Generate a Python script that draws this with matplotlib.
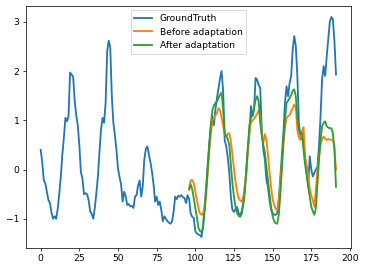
import matplotlib
matplotlib.use("Agg")
import matplotlib.pyplot as plt
import numpy as np

# ground truth, steps 0..191
ground_truth = [
    0.40, 0.15, -0.22, -0.28, -0.45, -0.62, -0.68, -0.88, -1.00, -0.95,
    -1.00, -0.80, -0.50, -0.15, 0.30, 0.65, 1.05, 0.98, 1.08, 1.97,
    1.93, 1.88, 1.40, 1.10, 0.90, 0.50, -0.05, -0.18, -0.50, -0.48,
    -0.50, -0.62, -0.85, -0.90, -1.00, -0.78, -0.48, -0.15, 0.35, 0.80,
    1.05, 0.95, 1.35, 2.40, 2.62, 2.48, 1.50, 0.95, 0.70, 0.40,
    0.02, -0.15, -0.30, -0.65, -0.45, -0.55, -0.72, -0.70, -0.75, -0.74,
    -0.78, -0.55, -0.52, -0.32, -0.22, -0.55, -0.35, 0.20, 0.42, 0.47,
    0.30, 0.15, -0.05, -0.30, -0.65, -0.55, -0.72, -0.65, -0.82, -1.05,
    -0.95, -1.00, -1.05, -1.08, -1.10, -1.05, -0.85, -0.55, -0.60, -0.53,
    -0.55, -0.52, -0.56, -0.58, -0.68, -0.52, -0.60, -0.89, -0.96, -0.98,
    -1.25, -1.30, -1.32, -1.33, -1.37, -1.15, -0.75, -0.35, 0.10, 0.54,
    0.85, 1.08, 0.90, 1.22, 1.45, 1.65, 1.85, 2.00, 1.60, 0.60,
    0.47, 0.25, -0.07, -0.55, -0.82, -0.86, -0.80, -0.76, -0.89, -0.92,
    -0.85, -0.70, -0.35, -0.07, 0.45, 0.74, 1.29, 1.08, 1.22, 1.86,
    1.82, 1.72, 1.65, 0.80, 0.40, 0.20, -0.21, -0.35, -0.62, -0.82,
    -0.88, -0.92, -0.92, -0.89, -0.60, -0.15, 0.30, 0.75, 1.35, 1.69,
    1.49, 1.76, 1.90, 2.44, 2.71, 2.51, 1.90, 0.95, 0.67, 0.62,
    0.60, 0.20, 0.06, -0.35, 0.27, 0.00, -0.14, -0.07, 0.00, 0.06,
    0.47, 1.08, 1.83, 2.10, 1.90, 2.30, 2.64, 3.00, 3.10, 3.05,
    2.60, 1.93,
]

# predictions, steps 96..191
pred_start = 96
before_adapt = [
    -0.38, -0.22, -0.21, -0.28, -0.45, -0.62, -0.78, -0.89, -0.92, -0.88,
    -0.80, -0.45, -0.10, 0.35, 0.70, 0.98, 1.05, 1.10, 1.15, 1.25,
    1.20, 1.05, 0.88, 0.72, 0.67, 0.72, 0.74, 0.58, 0.30, 0.02,
    -0.25, -0.45, -0.58, -0.63, -0.65, -0.55, -0.35, 0.00, 0.33, 0.75,
    0.96, 1.00, 1.03, 1.08, 1.13, 1.20, 1.10, 0.70, 0.54, 0.72,
    0.60, 0.30, -0.05, -0.35, -0.60, -0.72, -0.80, -0.82, -0.60, -0.25,
    0.15, 0.50, 0.85, 1.05, 1.08, 1.11, 1.18, 1.25, 1.32, 1.25,
    0.80, 0.65, 0.60, 0.78, 0.86, 0.30, 0.05, -0.12, -0.38, -0.52,
    -0.62, -0.76, -0.40, 0.00, 0.25, 0.50, 0.62, 0.67, 0.63, 0.60,
    0.62, 0.61, 0.60, 0.60, 0.47, 0.00,
]
after_adapt = [
    -0.41, -0.30, -0.40, -0.58, -0.78, -0.96, -1.18, -1.25, -1.27, -1.18,
    -0.85, -0.48, 0.00, 0.45, 0.90, 1.20, 1.30, 1.35, 1.38, 1.45,
    1.52, 1.56, 1.22, 0.74, 0.68, 0.62, 0.50, 0.10, -0.28, -0.55,
    -0.76, -0.88, -0.94, -0.96, -0.90, -0.70, -0.48, 0.00, 0.45, 0.90,
    1.05, 1.12, 1.25, 1.42, 1.49, 1.38, 0.95, 0.70, 0.50, 0.35,
    0.05, -0.21, -0.50, -0.75, -0.95, -1.05, -1.09, -1.10, -0.92, -0.50,
    0.00, 0.60, 1.00, 1.35, 1.40, 1.45, 1.52, 1.60, 1.63, 1.49,
    1.05, 0.80, 0.74, 0.74, 0.40, 0.10, -0.12, -0.35, -0.55, -0.75,
    -0.85, -0.92, -0.78, -0.30, 0.20, 0.60, 0.88, 0.95, 0.98, 0.88,
    0.85, 0.84, 0.84, 0.74, 0.40, -0.35,
]

t = np.arange(len(ground_truth))
t_pred = np.arange(pred_start, pred_start + len(before_adapt))

fig = plt.figure(figsize=(365 / 65.5, 270 / 65.5), dpi=65.5)
ax = fig.add_subplot(111)
ax.plot(t, ground_truth, label="GroundTruth", linewidth=2)
ax.plot(t_pred, before_adapt, label="Before adaptation", linewidth=2)
ax.plot(t_pred, after_adapt, label="After adaptation", linewidth=2)
ax.legend(loc="upper center")
plt.subplots_adjust(left=0.071, right=0.961, top=0.978, bottom=0.0815)
plt.savefig("out.png", dpi=65.5)
